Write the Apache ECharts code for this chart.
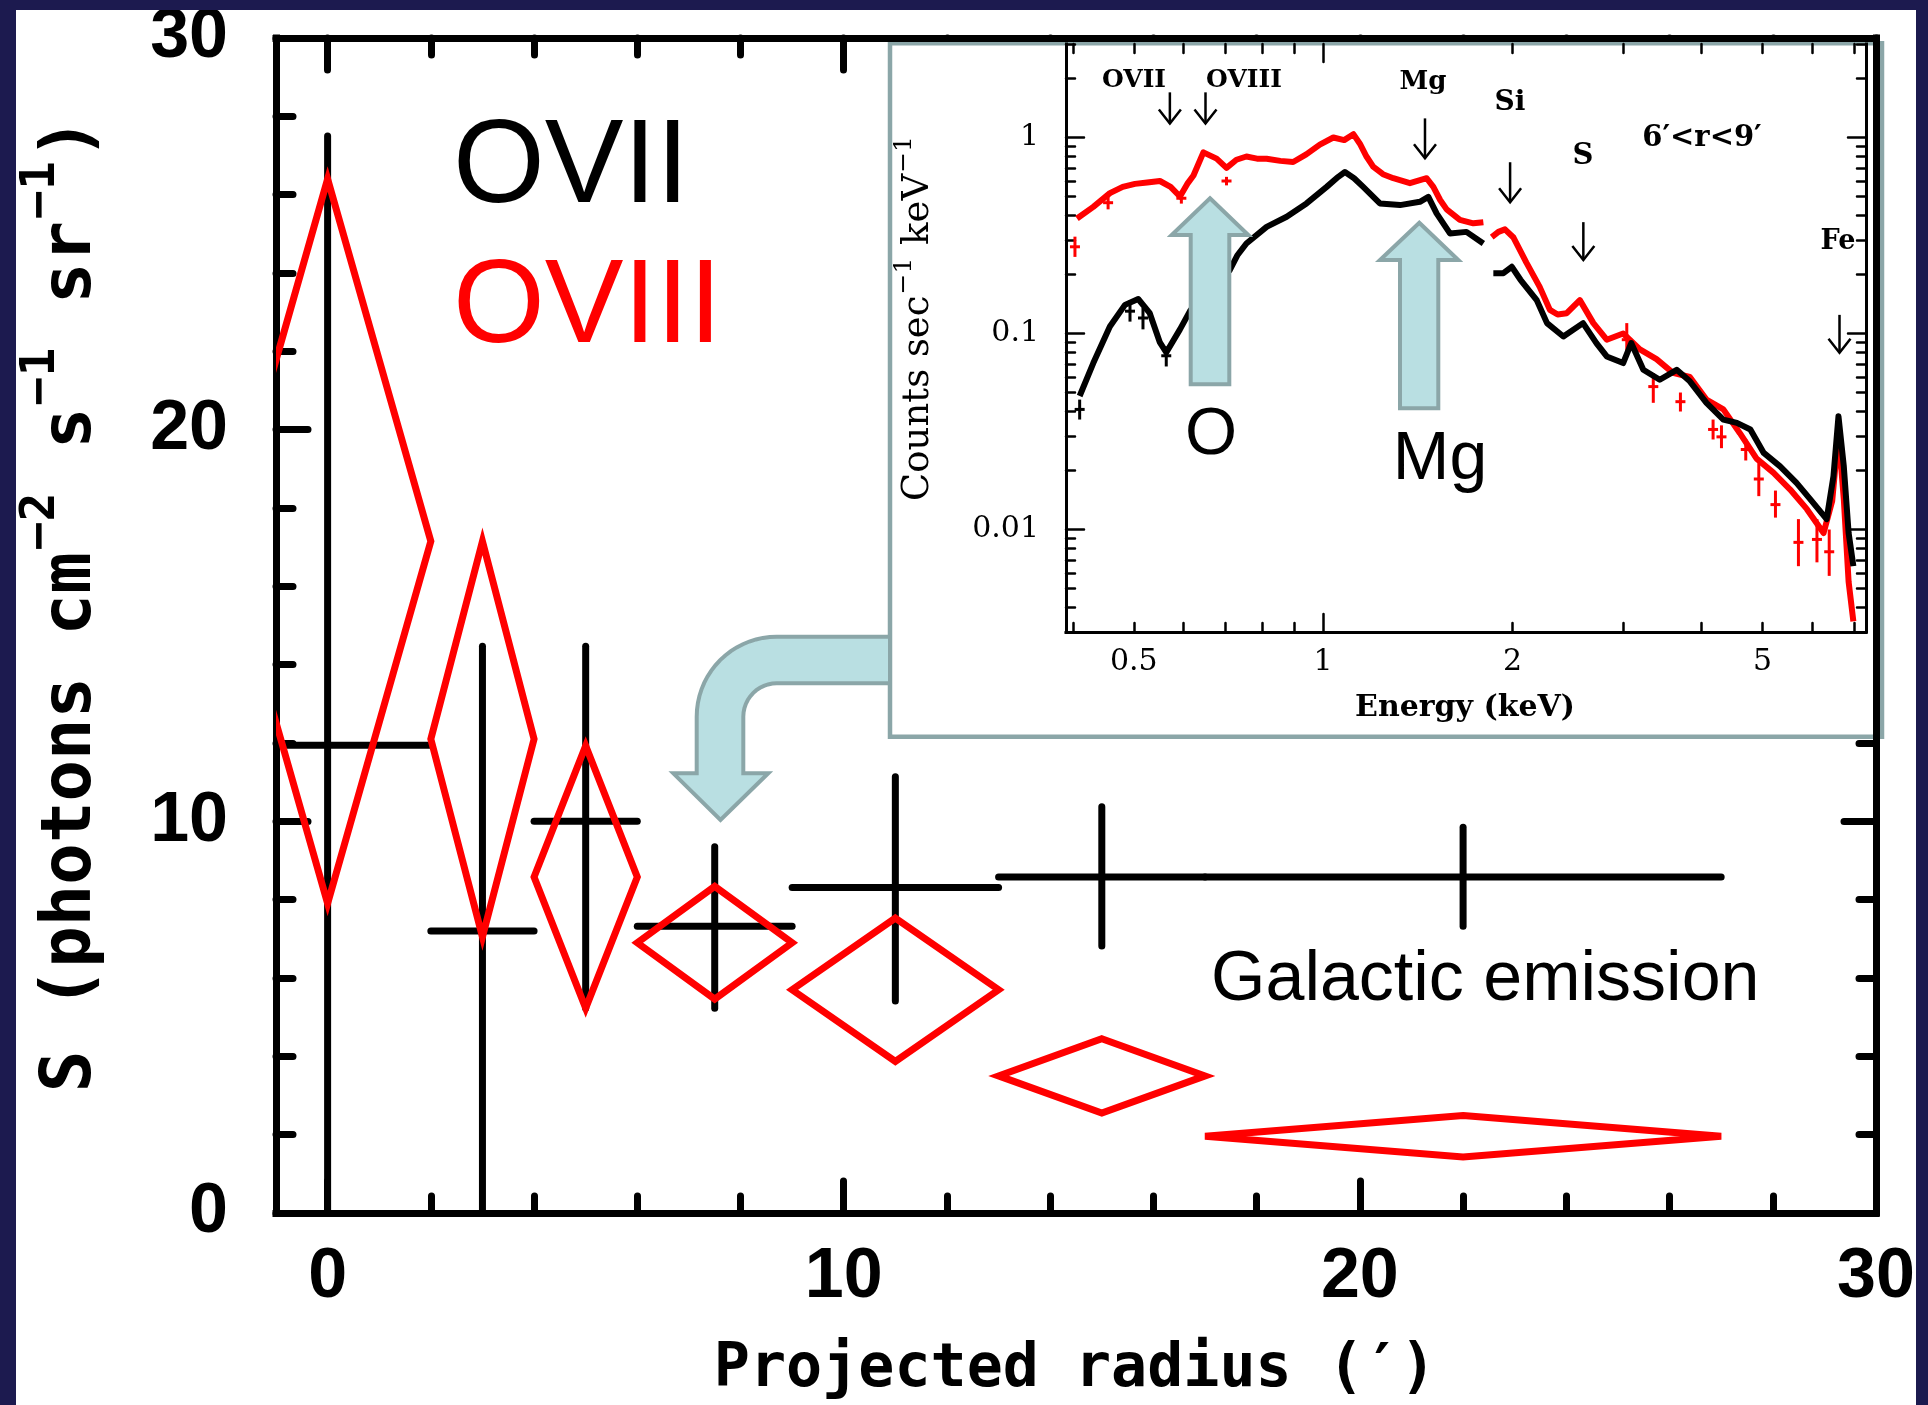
<!DOCTYPE html>
<html>
<head>
<meta charset="utf-8">
<script src="https://cdn.jsdelivr.net/npm/echarts@6/dist/echarts.min.js"></script>
<style>
  html, body { margin: 0; padding: 0; background: #ffffff; }
  #chart { width: 1928px; height: 1405px; }
</style>
</head>
<body>
<div id="chart"></div>
<script>
// ---------- Radial profile: OVII / OVIII surface brightness ----------
const radius    = [0, 3, 5, 7.5, 11, 15, 22];        // bin centres (arcmin)
const radiusLo  = [-2, 2, 4, 6, 9, 13, 17];          // bin lower edges
const radiusHi  = [2, 4, 6, 9, 13, 17, 27];          // bin upper edges
const ovii      = [11.94, 7.2, 10.0, 7.32, 8.31, 8.58, 8.58];
const oviiErrLo = [15.56, 7.27, 4.77, 2.09, 2.9, 1.76, 1.26];
const oviiErrHi = [15.56, 7.27, 4.47, 2.03, 2.83, 1.79, 1.27];
const oviii     = [17.15, 12.1, 8.58, 6.9, 5.7, 3.5, 1.96];
const oviiiErr  = [9.25, 5.05, 3.35, 1.44, 1.83, 0.95, 0.53];

// main axes ticks
const radiusTicks  = [0, 10, 20, 30];
const radiusMinor  = [2, 4, 6, 8, 12, 14, 16, 18, 22, 24, 26, 28];
const sbTicks      = [0, 10, 20, 30];
const sbMinor      = [2, 4, 6, 8, 12, 14, 16, 18, 22, 24, 26, 28];

// ---------- Inset: X-ray spectrum, 6'<r<9' ----------
// outer annulus (red), split at the gap near 1.8 keV
const redLoE = [0.406, 0.431, 0.458, 0.48, 0.502, 0.525, 0.55, 0.572, 0.592, 0.608, 0.622, 0.645, 0.677, 0.702, 0.728, 0.755, 0.785, 0.813, 0.855, 0.896, 0.94, 0.988, 1.038, 1.08, 1.117, 1.144, 1.172, 1.201, 1.245, 1.293, 1.374, 1.461, 1.497, 1.535, 1.572, 1.65, 1.733, 1.798];
const redLoC = [0.386, 0.443, 0.52, 0.56, 0.58, 0.59, 0.60, 0.56, 0.50, 0.58, 0.64, 0.84, 0.78, 0.70, 0.77, 0.80, 0.78, 0.78, 0.76, 0.75, 0.82, 0.92, 1.0, 0.97, 1.04, 0.93, 0.80, 0.71, 0.65, 0.62, 0.585, 0.62, 0.56, 0.48, 0.43, 0.38, 0.365, 0.37];
const redHiE = [1.854, 1.9, 1.946, 2.006, 2.105, 2.21, 2.294, 2.36, 2.44, 2.56, 2.69, 2.825, 3.0, 3.19, 3.39, 3.6, 3.83, 4.07, 4.33, 4.6, 4.89, 5.2, 5.53, 5.88, 6.25, 6.45, 6.6, 6.73, 6.85, 6.97];
const redHiC = [0.31, 0.33, 0.34, 0.31, 0.23, 0.173, 0.132, 0.125, 0.127, 0.148, 0.113, 0.093, 0.10, 0.083, 0.074, 0.063, 0.060, 0.046, 0.041, 0.031, 0.023, 0.0195, 0.016, 0.0127, 0.0096, 0.014, 0.031, 0.0143, 0.0054, 0.0034];
// inner region (black)
const blackLoE = [0.41, 0.431, 0.458, 0.484, 0.508, 0.53, 0.55, 0.563, 0.592, 0.614, 0.64, 0.67, 0.71, 0.73, 0.755, 0.813, 0.875, 0.941, 1.013, 1.057, 1.083, 1.12, 1.158, 1.231, 1.325, 1.425, 1.47, 1.515, 1.591, 1.69, 1.798];
const blackLoC = [0.048, 0.0707, 0.1086, 0.14, 0.15, 0.127, 0.09, 0.08, 0.105, 0.13, 0.155, 0.175, 0.21, 0.25, 0.288, 0.35, 0.394, 0.461, 0.56, 0.63, 0.667, 0.62, 0.56, 0.461, 0.452, 0.47, 0.498, 0.41, 0.324, 0.33, 0.288];
const blackHiE = [1.865, 1.935, 1.995, 2.06, 2.186, 2.27, 2.41, 2.59, 2.72, 2.825, 3.0, 3.09, 3.23, 3.43, 3.65, 3.83, 4.07, 4.33, 4.55, 4.78, 5.02, 5.33, 5.66, 5.95, 6.32, 6.48, 6.6, 6.73, 6.85, 6.97];
const blackHiC = [0.203, 0.203, 0.219, 0.188, 0.148, 0.113, 0.0965, 0.113, 0.0894, 0.0764, 0.0707, 0.0894, 0.0653, 0.0581, 0.0653, 0.057, 0.0443, 0.0364, 0.035, 0.0324, 0.0246, 0.021, 0.0173, 0.0143, 0.0113, 0.0187, 0.0378, 0.021, 0.0096, 0.0065];
// individual channels with visible error bars
const redBarE  = [0.403, 0.455, 0.595, 0.702, 3.04, 3.35, 3.7, 4.17, 4.3, 4.7, 4.93, 5.24, 5.7, 6.1, 6.38];
const redBarC  = [0.277, 0.465, 0.49, 0.60, 0.093, 0.0536, 0.0449, 0.0324, 0.0297, 0.0256, 0.0181, 0.0134, 0.0086, 0.0089, 0.0077];
const redBarLo = [0.246, 0.43, 0.46, 0.57, 0.0764, 0.0443, 0.040, 0.0288, 0.026, 0.0225, 0.0148, 0.0115, 0.0065, 0.0068, 0.0058];
const redBarHi = [0.312, 0.50, 0.52, 0.63, 0.113, 0.0629, 0.050, 0.0364, 0.034, 0.029, 0.0218, 0.0158, 0.0113, 0.0113, 0.0100];
const blackBarE  = [0.41, 0.493, 0.517, 0.563];
const blackBarC  = [0.041, 0.13, 0.12, 0.077];
const blackBarLo = [0.0364, 0.115, 0.105, 0.0679];
const blackBarHi = [0.046, 0.148, 0.135, 0.0859];
// emission line markers
const lineNames = ['OVII', 'OVIII', 'Mg', 'Si', 'S', 'Fe'];
const lineE     = [0.5705, 0.65, 1.452, 1.983, 2.593, 6.625];
const arrowTop  = [1.70, 1.70, 1.252, 0.748, 0.370, 0.1245];
const arrowTip  = [1.18, 1.18, 0.784, 0.468, 0.237, 0.0797];

// inset axis ticks
const energyLabels = [0.5, 1, 2, 5];
const energyMinor  = [0.4, 0.5, 0.6, 0.7, 0.8, 0.9, 2, 3, 4, 5, 6, 7];
const energyMajor  = [1];
const countLabels  = [0.01, 0.1, 1];
const countMinor   = [0.003, 0.004, 0.005, 0.006, 0.007, 0.008, 0.009, 0.02, 0.03, 0.04, 0.05, 0.06, 0.07, 0.08, 0.09, 0.2, 0.3, 0.4, 0.5, 0.6, 0.7, 0.8, 0.9, 2, 3];
const countMajor   = [0.01, 0.1, 1];
const energyRange  = [0.39, 7.3];
const countRange   = [0.003, 3];

// ---------- helpers ----------
const lg = Math.log10;
const BLACK = '#000000', RED = '#ff0000';
const TEAL_FILL = '#b9dfe2', TEAL_EDGE = '#8ba6a8', NAVY = '#1c1a4f';
const fmtLog = v => String(Number(Math.pow(10, v).toPrecision(2)));

function axis(gridIndex, position, min, max, extra) {
  return Object.assign({
    type: 'value', gridIndex, position, min, max,
    splitLine: { show: false },
    axisLine: { show: false, onZero: false },
    axisTick: { show: false },
    axisLabel: { show: false },
    axisPointer: { show: false },
    silent: true, z: 0
  }, extra || {});
}
function ticks(values, len, width) {
  return { show: true, inside: true, length: len, customValues: values,
           lineStyle: { color: BLACK, width: width, cap: 'round' } };
}
function line(width) {
  return { show: true, onZero: false, lineStyle: { color: BLACK, width: width, cap: 'square' } };
}

const mainX = [-1, 30], mainY = [0, 30];
const inX = [lg(energyRange[0]), lg(energyRange[1])];
const inY = [lg(countRange[0]), lg(countRange[1])];

const bigDigits = { fontFamily: 'Liberation Sans', fontWeight: 'bold', fontSize: 70, color: BLACK };
const smallDigits = { fontFamily: 'DejaVu Serif', fontSize: 30, color: BLACK };

const xAxes = [
  // 0-3: main grid
  axis(0, 'bottom', mainX[0], mainX[1], { axisLine: line(7), axisTick: ticks(radiusTicks, 32, 7),
    axisLabel: Object.assign({ show: true, customValues: radiusTicks, margin: 30 }, bigDigits) }),
  axis(0, 'bottom', mainX[0], mainX[1], { axisTick: ticks(radiusMinor, 17, 7) }),
  axis(0, 'top', mainX[0], mainX[1], { axisTick: ticks(radiusTicks, 32, 7) }),
  axis(0, 'top', mainX[0], mainX[1], { axisTick: ticks(radiusMinor, 17, 7) }),
  // 4-7: inset grid (log10 energy)
  axis(1, 'bottom', inX[0], inX[1], { z: 11, axisLine: line(3), axisTick: ticks(energyMinor.map(lg), 9, 2.5),
    axisLabel: Object.assign({ show: true, customValues: energyLabels.map(lg), formatter: fmtLog, margin: 15 }, smallDigits) }),
  axis(1, 'bottom', inX[0], inX[1], { z: 11, axisTick: ticks(energyMajor.map(lg), 18, 2.5) }),
  axis(1, 'top', inX[0], inX[1], { z: 11, axisTick: ticks(energyMinor.map(lg), 9, 2.5) }),
  axis(1, 'top', inX[0], inX[1], { z: 11, axisTick: ticks(energyMajor.map(lg), 18, 2.5) }),
  // 8: main frame top edge drawn above the inset
  axis(0, 'top', mainX[0], mainX[1], { z: 15, axisLine: line(7) })
];
const yAxes = [
  axis(0, 'left', mainY[0], mainY[1], { axisLine: line(7), axisTick: ticks(sbTicks, 32, 7),
    axisLabel: Object.assign({ show: true, customValues: sbTicks, margin: 48 }, bigDigits) }),
  axis(0, 'left', mainY[0], mainY[1], { axisTick: ticks(sbMinor, 17, 7) }),
  axis(0, 'right', mainY[0], mainY[1], { axisTick: ticks(sbTicks, 32, 7) }),
  axis(0, 'right', mainY[0], mainY[1], { axisTick: ticks(sbMinor, 17, 7) }),
  axis(1, 'left', inY[0], inY[1], { z: 11, axisLine: line(3), axisTick: ticks(countMinor.map(lg), 9, 2.5),
    axisLabel: Object.assign({ show: true, customValues: countLabels.map(lg), formatter: fmtLog, margin: 27 }, smallDigits) }),
  axis(1, 'left', inY[0], inY[1], { z: 11, axisTick: ticks(countMajor.map(lg), 18, 2.5) }),
  axis(1, 'right', inY[0], inY[1], { z: 11, axisLine: line(3), axisTick: ticks(countMinor.map(lg), 9, 2.5) }),
  axis(1, 'right', inY[0], inY[1], { z: 11, axisTick: ticks(countMajor.map(lg), 18, 2.5) }),
  // 8: main frame right edge drawn above the inset
  axis(0, 'right', mainY[0], mainY[1], { z: 15, axisLine: line(7) })
];

function clipRect(params) {
  const c = params.coordSys;
  return { type: 'rect', shape: { x: c.x, y: c.y, width: c.width, height: c.height } };
}

// OVII: crosses (bin width x 1-sigma error)
const oviiSeries = {
  type: 'custom', name: 'OVII', xAxisIndex: 0, yAxisIndex: 0, z: 3, clip: true,
  data: radius.map((r, i) => [r, radiusLo[i], radiusHi[i], ovii[i], ovii[i] - oviiErrLo[i], ovii[i] + oviiErrHi[i]]),
  encode: { x: [0, 1, 2], y: [3, 4, 5] },
  renderItem(params, api) {
    const l = api.coord([api.value(1), api.value(3)]);
    const r = api.coord([api.value(2), api.value(3)]);
    const lo = api.coord([api.value(0), api.value(4)]);
    const hi = api.coord([api.value(0), api.value(5)]);
    const st = { stroke: BLACK, lineWidth: 7, lineCap: 'round' };
    return { type: 'group', clipPath: clipRect(params), children: [
      { type: 'line', shape: { x1: l[0], y1: l[1], x2: r[0], y2: r[1] }, style: st },
      { type: 'line', shape: { x1: lo[0], y1: lo[1], x2: hi[0], y2: hi[1] }, style: st }
    ] };
  }
};

// OVIII: diamonds spanning the bin and the 1-sigma range
const oviiiSeries = {
  type: 'custom', name: 'OVIII', xAxisIndex: 0, yAxisIndex: 0, z: 4, clip: true,
  data: radius.map((r, i) => [r, radiusLo[i], radiusHi[i], oviii[i], oviii[i] - oviiiErr[i], oviii[i] + oviiiErr[i]]),
  encode: { x: [0, 1, 2], y: [3, 4, 5] },
  renderItem(params, api) {
    const pts = [
      api.coord([api.value(0), api.value(5)]),
      api.coord([api.value(2), api.value(3)]),
      api.coord([api.value(0), api.value(4)]),
      api.coord([api.value(1), api.value(3)])
    ];
    return { type: 'group', clipPath: clipRect(params), children: [
      { type: 'polygon', shape: { points: pts },
        style: { fill: 'none', stroke: RED, lineWidth: 7, lineJoin: 'miter' } }
    ] };
  }
};

function specLine(E, C, color, z) {
  return {
    type: 'line', xAxisIndex: 4, yAxisIndex: 4, z: z, symbol: 'none', silent: true,
    data: E.map((e, i) => [lg(e), lg(C[i])]),
    lineStyle: { color: color, width: 6, join: 'round' }
  };
}
function specBars(E, C, lo, hi, color, z) {
  return {
    type: 'custom', xAxisIndex: 4, yAxisIndex: 4, z: z, clip: true, silent: true,
    data: E.map((e, i) => [lg(e), lg(C[i]), lg(lo[i]), lg(hi[i])]),
    encode: { x: 0, y: [1, 2, 3] },
    renderItem(params, api) {
      const c = api.coord([api.value(0), api.value(1)]);
      const a = api.coord([api.value(0), api.value(2)]);
      const b = api.coord([api.value(0), api.value(3)]);
      const st = { stroke: color, lineWidth: 3 };
      return { type: 'group', children: [
        { type: 'line', shape: { x1: a[0], y1: a[1], x2: b[0], y2: b[1] }, style: st },
        { type: 'line', shape: { x1: c[0] - 5, y1: c[1], x2: c[0] + 5, y2: c[1] }, style: st }
      ] };
    }
  };
}
const arrowSeries = {
  type: 'custom', xAxisIndex: 4, yAxisIndex: 4, z: 13, silent: true,
  data: lineE.map((e, i) => [lg(e), lg(arrowTop[i]), lg(arrowTip[i])]),
  encode: { x: 0, y: [1, 2] },
  renderItem(params, api) {
    const t = api.coord([api.value(0), api.value(1)]);
    const p = api.coord([api.value(0), api.value(2)]);
    const st = { stroke: BLACK, lineWidth: 2.5, fill: 'none' };
    return { type: 'group', children: [
      { type: 'line', shape: { x1: t[0], y1: t[1], x2: p[0], y2: p[1] }, style: st },
      { type: 'polyline', shape: { points: [[p[0] - 11, p[1] - 14], [p[0], p[1]], [p[0] + 11, p[1] - 14]] }, style: st }
    ] };
  }
};

// ---------- annotation graphics ----------
// points along a circular arc (degrees, screen orientation)
function arcPts(cx, cy, r, a0, a1, n) {
  const pts = [];
  for (let k = 0; k <= n; k++) {
    const a = (a0 + (a1 - a0) * k / n) * Math.PI / 180;
    pts.push([cx + r * Math.cos(a), cy + r * Math.sin(a)]);
  }
  return pts;
}
// bent arrow leading from the inset to the 6'-9' bin
const bentArrow = [[890, 636.7]]
  .concat(arcPts(776.7, 716.7, 80, -90, -180, 18))
  .concat([[696.7, 773.3], [673.3, 773.3], [720.5, 820], [768.3, 773.3], [743.3, 773.3]])
  .concat(arcPts(776.7, 716.7, 33.4, -180, -90, 12))
  .concat([[890, 683.3]]);

const monoBold = 'DejaVu Sans Mono';
const graphics = [
  // inset panel
  { type: 'rect', z: 10, shape: { x: 890, y: 43.3, width: 992, height: 693.4 },
    style: { fill: '#ffffff', stroke: TEAL_EDGE, lineWidth: 4.5 } },
  // large labels
  { type: 'text', z: 5, x: 453, y: 169, style: { text: 'OVII', fill: BLACK, font: '118px "Liberation Sans"', textVerticalAlign: 'middle' } },
  { type: 'text', z: 5, x: 453, y: 309, style: { text: 'OVIII', fill: RED, font: '118px "Liberation Sans"', textVerticalAlign: 'middle' } },
  { type: 'text', z: 5, x: 1211, y: 981, style: { text: 'Galactic emission', fill: BLACK, font: '70px "Liberation Sans"', textVerticalAlign: 'middle' } },
  // axis titles
  { type: 'text', z: 5, x: 1075, y: 1370, style: { text: 'Projected radius (\u2032)', fill: BLACK,
      font: 'bold 60px "' + monoBold + '"', textAlign: 'center', textVerticalAlign: 'middle' } },
  { type: 'text', z: 5, x: 72, y: 605, rotation: Math.PI / 2,
    style: { text: '{m|S (photons cm}{s|\u22122}{m| s}{s|\u22121}{m| sr}{s|\u22121}{m|)}',
      textAlign: 'center', textVerticalAlign: 'middle',
      rich: {
        m: { fontFamily: monoBold, fontWeight: 'bold', fontSize: 69, lineHeight: 69, fill: BLACK },
        s: { fontFamily: monoBold, fontWeight: 'bold', fontSize: 48, lineHeight: 48, padding: [0, 2, 60, 2], fill: BLACK }
      } } },
  // inset titles
  { type: 'text', z: 14, x: 1465, y: 708, style: { text: 'Energy (keV)', fill: BLACK,
      font: 'bold 30px "DejaVu Serif"', textAlign: 'center', textVerticalAlign: 'middle' } },
  { type: 'text', z: 14, x: 918, y: 318, rotation: Math.PI / 2,
    style: { text: '{m|Counts sec}{s|\u22121}{m| keV}{s|\u22121}', textAlign: 'center', textVerticalAlign: 'middle',
      rich: {
        m: { fontFamily: 'DejaVu Serif', fontSize: 37, lineHeight: 37, fill: BLACK },
        s: { fontFamily: 'DejaVu Serif', fontSize: 25, lineHeight: 25, padding: [0, 1, 28, 1], fill: BLACK }
      } } },
  // inset line labels
  { type: 'text', z: 14, x: 1134, y: 80, style: { text: lineNames[0], fill: BLACK, font: 'bold 25px "DejaVu Serif"', textAlign: 'center', textVerticalAlign: 'middle' } },
  { type: 'text', z: 14, x: 1244, y: 80, style: { text: lineNames[1], fill: BLACK, font: 'bold 25px "DejaVu Serif"', textAlign: 'center', textVerticalAlign: 'middle' } },
  { type: 'text', z: 14, x: 1423, y: 82, style: { text: lineNames[2], fill: BLACK, font: 'bold 26px "DejaVu Serif"', textAlign: 'center', textVerticalAlign: 'middle' } },
  { type: 'text', z: 14, x: 1510, y: 103, style: { text: lineNames[3], fill: BLACK, font: 'bold 28px "DejaVu Serif"', textAlign: 'center', textVerticalAlign: 'middle' } },
  { type: 'text', z: 14, x: 1583, y: 156, style: { text: lineNames[4], fill: BLACK, font: 'bold 29px "DejaVu Serif"', textAlign: 'center', textVerticalAlign: 'middle' } },
  { type: 'text', z: 14, x: 1838, y: 242, style: { text: lineNames[5], fill: BLACK, font: 'bold 27px "DejaVu Serif"', textAlign: 'center', textVerticalAlign: 'middle' } },
  { type: 'text', z: 14, x: 1702, y: 138, style: { text: '6\u2032<r<9\u2032', fill: BLACK, font: 'bold 29px "DejaVu Serif"', textAlign: 'center', textVerticalAlign: 'middle' } },
  // highlight arrows
  { type: 'polygon', z: 20, shape: { points: [[1210, 198.3], [1248.3, 235], [1229.3, 235], [1229.3, 384.3], [1190.7, 384.3], [1190.7, 235], [1171.7, 235]] },
    style: { fill: TEAL_FILL, stroke: TEAL_EDGE, lineWidth: 4, lineJoin: 'miter' } },
  { type: 'polygon', z: 20, shape: { points: [[1419.3, 222.7], [1458.3, 260], [1438.3, 260], [1438.3, 408.3], [1400, 408.3], [1400, 260], [1380, 260]] },
    style: { fill: TEAL_FILL, stroke: TEAL_EDGE, lineWidth: 4, lineJoin: 'miter' } },
  { type: 'polygon', z: 20, shape: { points: bentArrow },
    style: { fill: TEAL_FILL, stroke: TEAL_EDGE, lineWidth: 4, lineJoin: 'miter' } },
  { type: 'text', z: 21, x: 1211, y: 436, style: { text: 'O', fill: BLACK, font: '67px "Liberation Sans"', textAlign: 'center', textVerticalAlign: 'middle' } },
  { type: 'text', z: 21, x: 1440, y: 460, style: { text: 'Mg', fill: BLACK, font: '68px "Liberation Sans"', textAlign: 'center', textVerticalAlign: 'middle' } },
  // slide frame
  { type: 'rect', z: 50, shape: { x: 0, y: 0, width: 1928, height: 10 }, style: { fill: NAVY } },
  { type: 'rect', z: 50, shape: { x: 0, y: 0, width: 16, height: 1405 }, style: { fill: NAVY } },
  { type: 'rect', z: 50, shape: { x: 1916, y: 0, width: 12, height: 1405 }, style: { fill: NAVY } }
];

const chart = echarts.init(document.getElementById('chart'), null, { renderer: 'canvas', width: 1928, height: 1405 });
chart.setOption({
  backgroundColor: '#ffffff',
  animation: false,
  grid: [
    { left: 276, top: 38, width: 1600, height: 1175, containLabel: false },
    { left: 1066, top: 44, width: 800, height: 588, containLabel: false }
  ],
  xAxis: xAxes,
  yAxis: yAxes,
  series: [
    oviiSeries,
    oviiiSeries,
    specLine(redLoE, redLoC, RED, 12),
    specLine(redHiE, redHiC, RED, 12),
    specBars(redBarE, redBarC, redBarLo, redBarHi, RED, 12),
    specLine(blackLoE, blackLoC, BLACK, 13),
    specLine(blackHiE, blackHiC, BLACK, 13),
    specBars(blackBarE, blackBarC, blackBarLo, blackBarHi, BLACK, 13),
    arrowSeries
  ],
  graphic: { elements: graphics }
});
</script>
</body>
</html>
